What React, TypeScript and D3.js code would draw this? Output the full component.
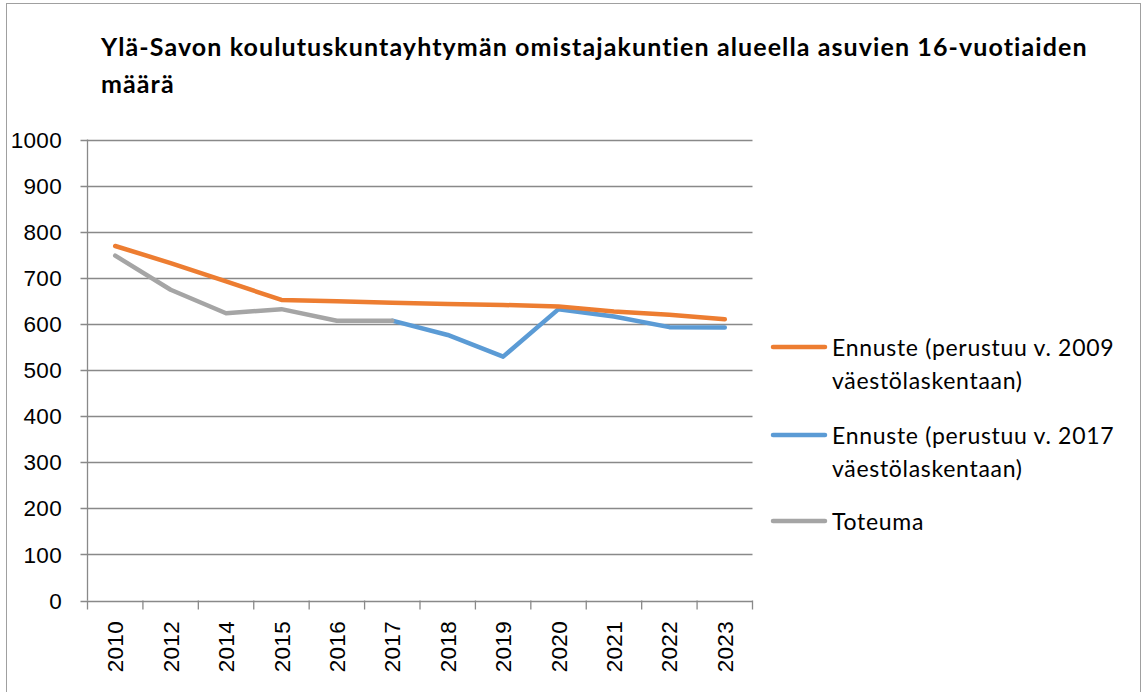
import React, { useEffect, useRef } from 'react';
import * as d3 from 'd3';

const years = ['2010', '2012', '2014', '2015', '2016', '2017', '2018', '2019', '2020', '2021', '2022', '2023'];
const forecast2009 = [769, 732, 692, 652, 649, 646, 643, 641, 638, 627, 620, 610];
const forecast2017 = [null, null, null, null, null, 607, 576, 529, 632, 616, 593, 592];
const actual = [748, 674, 623, 632, 607, 607, null, null, null, null, null, null];
const yTicks = [0, 100, 200, 300, 400, 500, 600, 700, 800, 900, 1000];

const titleLines = [
  'Ylä-Savon koulutuskuntayhtymän omistajakuntien alueella asuvien 16-vuotiaiden',
  'määrä',
];

const series = [
  { name: ['Ennuste (perustuu v. 2009', 'väestölaskentaan)'], values: forecast2009, color: '#ED7D31' },
  { name: ['Ennuste (perustuu v. 2017', 'väestölaskentaan)'], values: forecast2017, color: '#5B9BD5' },
  { name: ['Toteuma'], values: actual, color: '#A5A5A5' },
];

const App = () => {
  const svgRef = useRef<SVGSVGElement>(null);

  useEffect(() => {
    const svg = d3.select(svgRef.current);
    svg.selectAll('*').remove();

    const left = 87.5;
    const right = 752.5;
    const top = 139.5;
    const bottom = 600.5;
    const grid = '#898989';
    const tickFont = '"Liberation Sans", Arial, sans-serif';

    svg.append('rect')
      .attr('x', 6.5).attr('y', 3.5)
      .attr('width', 1134).attr('height', 720)
      .attr('fill', 'white')
      .attr('stroke', '#a0a0a0');

    const x = d3.scaleBand().domain(years).range([left, right]);
    const y = d3.scaleLinear().domain([0, 1000]).range([bottom, top]);

    // gridlines + y labels
    svg.append('g').selectAll('line')
      .data(yTicks)
      .enter()
      .append('line')
      .attr('x1', left - 7).attr('x2', right)
      .attr('y1', d => Math.round(y(d)) + 0.5).attr('y2', d => Math.round(y(d)) + 0.5)
      .attr('stroke', grid).attr('stroke-width', 1.3);

    svg.append('g').selectAll('text')
      .data(yTicks)
      .enter()
      .append('text')
      .attr('x', 62)
      .attr('y', d => y(d))
      .attr('dy', '0.36em')
      .attr('text-anchor', 'end')
      .style('font-family', tickFont)
      .style('font-size', '22.5px')
      .style('letter-spacing', '0.3px')
      .text(d => d);

    // y axis line
    svg.append('line')
      .attr('x1', left).attr('x2', left)
      .attr('y1', top).attr('y2', bottom)
      .attr('stroke', grid).attr('stroke-width', 1.3);

    // x ticks
    const edges = years.map(d => x(d) as number).concat([right]);
    svg.append('g').selectAll('line')
      .data(edges)
      .enter()
      .append('line')
      .attr('x1', d => d).attr('x2', d => d)
      .attr('y1', bottom).attr('y2', bottom + 9)
      .attr('stroke', grid).attr('stroke-width', 1.3);

    svg.append('g').selectAll('text')
      .data(years)
      .enter()
      .append('text')
      .attr('transform', d => `translate(${(x(d) as number) + x.bandwidth() / 2},621) rotate(-90)`)
      .attr('dy', '0.36em')
      .attr('text-anchor', 'end')
      .style('font-family', tickFont)
      .style('font-size', '22.5px')
      .style('letter-spacing', '0.3px')
      .text(d => d);

    // lines
    const line = d3.line<number | null>()
      .defined(d => d !== null)
      .x((_, i) => (x(years[i]) as number) + x.bandwidth() / 2)
      .y(d => y(d as number));

    [series[1], series[0], series[2]].forEach(s => {
      svg.append('path')
        .datum(s.values)
        .attr('d', line)
        .attr('fill', 'none')
        .attr('stroke', s.color)
        .attr('stroke-width', 4.5)
        .attr('stroke-linejoin', 'round')
        .attr('stroke-linecap', 'round');
    });

    // title
    svg.append('g').selectAll('text')
      .data(titleLines)
      .enter()
      .append('text')
      .attr('x', 101)
      .attr('y', (_, i) => 56 + i * 37)
      .style('font-family', 'Lato, sans-serif')
      .style('font-weight', 'bold')
      .style('font-size', '25px')
      .style('letter-spacing', '1.1px')
      .text(d => d);

    // legend
    const legendY = [347, 435, 521];
    series.forEach((s, i) => {
      const g = svg.append('g');
      g.append('line')
        .attr('x1', 773).attr('x2', 825)
        .attr('y1', legendY[i]).attr('y2', legendY[i])
        .attr('stroke', s.color).attr('stroke-width', 4.5)
        .attr('stroke-linecap', 'round');
      g.selectAll('text')
        .data(s.name)
        .enter()
        .append('text')
        .attr('x', 832)
        .attr('y', (_, j) => legendY[i] + 9 + j * 33)
        .style('font-family', 'Lato, sans-serif')
        .style('font-size', '23px')
        .style('letter-spacing', '0.7px')
        .text(d => d);
    });
  }, []);

  return (
    <div style={{ position: 'absolute', left: 0, top: 0 }}>
      <svg ref={svgRef} width={1144} height={692} style={{ display: 'block' }}></svg>
    </div>
  );
};

export default App;
